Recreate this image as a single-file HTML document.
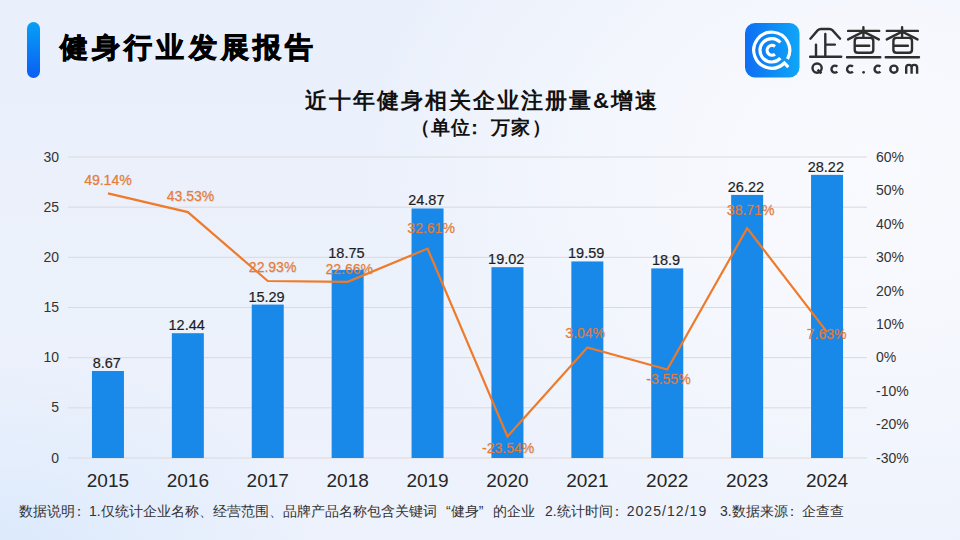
<!DOCTYPE html>
<html><head><meta charset="utf-8">
<style>
html,body{margin:0;padding:0;}
body{width:960px;height:540px;overflow:hidden;position:relative;font-family:"Liberation Sans",sans-serif;
background:radial-gradient(ellipse 520px 400px at 880px 170px,rgba(249,250,254,1) 0%,rgba(249,250,254,0.75) 40%,rgba(249,250,254,0) 100%),radial-gradient(ellipse 320px 210px at 0px 560px,rgba(218,233,252,1) 0%,rgba(218,233,252,0.5) 45%,rgba(218,233,252,0) 100%),linear-gradient(180deg,#EAF0FB 0%,#EDF2FC 100%);}
.abs{position:absolute;white-space:nowrap;}
.bar{position:absolute;left:27px;top:22px;width:13px;height:56px;border-radius:7px;background:linear-gradient(180deg,#07A0F6,#0A5EF3);}
.title{left:60px;top:28px;font-size:27.5px;letter-spacing:4.15px;font-weight:bold;color:#000;-webkit-text-stroke:0.9px #000;line-height:40px;}
.sub1{left:305px;top:87px;font-size:22px;letter-spacing:2px;font-weight:bold;color:#111;line-height:28px;}
.sub2{left:410px;top:115px;font-size:18.5px;font-weight:bold;color:#111;line-height:26px;}
.sub2 i{font-style:normal;display:inline-block;width:20px;text-align:center;}
.q1,.q2{display:inline-block;width:14px;}.q1{text-align:right;}.q2{text-align:left;}
.co{display:inline-block;width:14px;text-indent:-3px;text-align:left;}
.foot{left:19px;top:501px;font-size:14px;color:#333;line-height:20px;}
svg{position:absolute;left:0;top:0;}
svg text{font-family:"Liberation Sans",sans-serif;}
.ax{font-size:14px;fill:#333;}
.vl{font-size:14.5px;fill:#1e1e1e;stroke:#1e1e1e;stroke-width:0.2px;}
.yr{font-size:19px;fill:#262626;}
.pl{font-size:14px;fill:#E67C36;stroke:#E67C36;stroke-opacity:0.5;stroke-width:0.35px;}
.ps{font-size:14px;fill:rgba(80,80,100,0.16);}
</style></head>
<body>
<div class="bar"></div>
<div class="abs title">健身行业发展报告</div>
<div class="abs sub1">近十年健身相关企业注册量&amp;增速</div>
<div class="abs sub2"><i style="text-align:right">（</i><i>单</i><i>位</i><i style="text-align:left;text-indent:-5px">：</i><i>万</i><i>家</i><i style="text-align:left;text-indent:2px">）</i></div>

<svg width="960" height="540" viewBox="0 0 960 540">
  <defs>
    <linearGradient id="lg" x1="0" y1="0" x2="1" y2="0">
      <stop offset="0" stop-color="#0E6EF3"/>
      <stop offset="1" stop-color="#0FA6F7"/>
    </linearGradient>
  </defs>
  <rect x="745" y="23" width="54.5" height="54.5" rx="10" fill="url(#lg)"/>
  <g fill="none" stroke="#fff" stroke-width="3.2" stroke-linecap="butt">
    <path d="M787.5 58.9 A18 18 0 1 0 784.4 63 L788.3 67.2"/>
    <path d="M780.4 42.5 A11.7 11.7 0 1 0 780.4 58.1"/>
    <path d="M775 46.4 A4.9 4.9 0 1 0 775 54.2"/>
  </g>
  <g fill="none" stroke="#2e2e2e" stroke-width="2.4" stroke-linecap="round" stroke-linejoin="round">
    <path d="M810.4 38.7 L817.6 30.4 Q819 29 821 29 L829.4 29 Q831.2 29 832.6 30.4 L840.1 38.7"/>
    <path d="M825.3 33.9 V56.8 M825.3 44.6 H834.9 M816 44.6 V56.8 M810.1 56.8 H841.2"/>
    <g id="cha">
    <path d="M863.4 27.2 V37.9 M848.1 30.9 H879.2 M863.4 31.6 L848.1 39.4 M863.4 31.6 L878.8 39.4 M847 57.2 H880.3"/>
    <path d="M857.7 37.9 H870.3 Q873.3 37.9 873.3 40.9 V49.7 Q873.3 52.7 870.3 52.7 H857.7 Q854.7 52.7 854.7 49.7 V40.9 Q854.7 37.9 857.7 37.9 Z M854.7 45.7 H869.2"/>
    </g>
    <use href="#cha" x="38.7"/>
  </g>
  <g fill="none" stroke="#2e2e2e" stroke-width="2.4">
    <circle cx="817.1" cy="68.1" r="4.6"/>
    <path d="M817.6 69.6 L821.4 73.4" stroke-linecap="butt"/>
    <path d="M837.3 66.7 A3.45 3.45 0 1 0 837.3 71.7"/>
    <path d="M852.9 66.7 A3.45 3.45 0 1 0 852.9 71.7"/>
    <path d="M880.4 66.7 A3.45 3.45 0 1 0 880.4 71.7"/>
    <circle cx="893.9" cy="69.2" r="3.6"/>
    <path d="M906.2 73.75 V67.5 Q906.2 64.9 908.9 64.9 Q911.6 64.9 911.6 67.5 V73.75 M911.6 67.5 Q911.6 64.9 914.3 64.9 Q917.1 64.9 917.1 67.5 V73.75"/>
  </g>
  <circle cx="863.6" cy="72.3" r="1.35" fill="#2e2e2e"/>
<line x1="68" x2="867" y1="157" y2="157" stroke="#DADADA" stroke-width="1"/>
<text x="59" y="161.5" class="ax" text-anchor="end">30</text>
<line x1="68" x2="867" y1="207.17" y2="207.17" stroke="#DADADA" stroke-width="1"/>
<text x="59" y="211.67" class="ax" text-anchor="end">25</text>
<line x1="68" x2="867" y1="257.33" y2="257.33" stroke="#DADADA" stroke-width="1"/>
<text x="59" y="261.83" class="ax" text-anchor="end">20</text>
<line x1="68" x2="867" y1="307.5" y2="307.5" stroke="#DADADA" stroke-width="1"/>
<text x="59" y="312" class="ax" text-anchor="end">15</text>
<line x1="68" x2="867" y1="357.67" y2="357.67" stroke="#DADADA" stroke-width="1"/>
<text x="59" y="362.17" class="ax" text-anchor="end">10</text>
<line x1="68" x2="867" y1="407.83" y2="407.83" stroke="#DADADA" stroke-width="1"/>
<text x="59" y="412.33" class="ax" text-anchor="end">5</text>
<line x1="68" x2="867" y1="458" y2="458" stroke="#DADADA" stroke-width="1"/>
<text x="59" y="462.5" class="ax" text-anchor="end">0</text>
<text x="876" y="161.8" class="ax">60%</text>
<text x="876" y="195.24" class="ax">50%</text>
<text x="876" y="228.69" class="ax">40%</text>
<text x="876" y="262.13" class="ax">30%</text>
<text x="876" y="295.58" class="ax">20%</text>
<text x="876" y="329.02" class="ax">10%</text>
<text x="876" y="362.47" class="ax">0%</text>
<text x="876" y="395.91" class="ax">-10%</text>
<text x="876" y="429.36" class="ax">-20%</text>
<text x="876" y="462.8" class="ax">-30%</text>
<rect x="91.95" y="371.01" width="32" height="86.99" fill="#1889E9"/>
<text x="106.75" y="368.01" class="vl" text-anchor="middle">8.67</text>
<text x="107.95" y="487.3" class="yr" text-anchor="middle">2015</text>
<rect x="171.85" y="333.19" width="32" height="124.81" fill="#1889E9"/>
<text x="186.65" y="330.19" class="vl" text-anchor="middle">12.44</text>
<text x="187.85" y="487.3" class="yr" text-anchor="middle">2016</text>
<rect x="251.75" y="304.59" width="32" height="153.41" fill="#1889E9"/>
<text x="266.55" y="301.59" class="vl" text-anchor="middle">15.29</text>
<text x="267.75" y="487.3" class="yr" text-anchor="middle">2017</text>
<rect x="331.65" y="269.88" width="32" height="188.12" fill="#1889E9"/>
<text x="346.45" y="257.8" class="vl" text-anchor="middle">18.75</text>
<text x="347.65" y="487.3" class="yr" text-anchor="middle">2018</text>
<rect x="411.55" y="208.47" width="32" height="249.53" fill="#1889E9"/>
<text x="426.35" y="205.47" class="vl" text-anchor="middle">24.87</text>
<text x="427.55" y="487.3" class="yr" text-anchor="middle">2019</text>
<rect x="491.45" y="267.17" width="32" height="190.83" fill="#1889E9"/>
<text x="506.25" y="264.17" class="vl" text-anchor="middle">19.02</text>
<text x="507.45" y="487.3" class="yr" text-anchor="middle">2020</text>
<rect x="571.35" y="261.45" width="32" height="196.55" fill="#1889E9"/>
<text x="586.15" y="258.45" class="vl" text-anchor="middle">19.59</text>
<text x="587.35" y="487.3" class="yr" text-anchor="middle">2021</text>
<rect x="651.25" y="268.37" width="32" height="189.63" fill="#1889E9"/>
<text x="666.05" y="265.37" class="vl" text-anchor="middle">18.9</text>
<text x="667.25" y="487.3" class="yr" text-anchor="middle">2022</text>
<rect x="731.15" y="194.93" width="32" height="263.07" fill="#1889E9"/>
<text x="745.95" y="191.93" class="vl" text-anchor="middle">26.22</text>
<text x="747.15" y="487.3" class="yr" text-anchor="middle">2023</text>
<rect x="811.05" y="174.86" width="32" height="283.14" fill="#1889E9"/>
<text x="825.85" y="171.86" class="vl" text-anchor="middle">28.22</text>
<text x="827.05" y="487.3" class="yr" text-anchor="middle">2024</text>
<text x="108.6" y="185.2" class="ps" text-anchor="middle">49.14%</text>
<text x="107.9" y="184.5" class="pl" text-anchor="middle">49.14%</text>
<text x="191.2" y="201.8" class="ps" text-anchor="middle">43.53%</text>
<text x="190.5" y="201.1" class="pl" text-anchor="middle">43.53%</text>
<text x="273.3" y="272.6" class="ps" text-anchor="middle">22.93%</text>
<text x="272.6" y="271.9" class="pl" text-anchor="middle">22.93%</text>
<text x="349.9" y="274.7" class="ps" text-anchor="middle">22.66%</text>
<text x="349.2" y="274" class="pl" text-anchor="middle">22.66%</text>
<text x="431.8" y="233.3" class="ps" text-anchor="middle">32.61%</text>
<text x="431.1" y="232.6" class="pl" text-anchor="middle">32.61%</text>
<text x="508.9" y="453.9" class="ps" text-anchor="middle">-23.54%</text>
<text x="508.2" y="453.2" class="pl" text-anchor="middle">-23.54%</text>
<text x="585.9" y="338.2" class="ps" text-anchor="middle">3.04%</text>
<text x="585.2" y="337.5" class="pl" text-anchor="middle">3.04%</text>
<text x="669.1" y="384.9" class="ps" text-anchor="middle">-3.55%</text>
<text x="668.4" y="384.2" class="pl" text-anchor="middle">-3.55%</text>
<text x="751.3" y="215.9" class="ps" text-anchor="middle">38.71%</text>
<text x="750.6" y="215.2" class="pl" text-anchor="middle">38.71%</text>
<text x="827.3" y="339.3" class="ps" text-anchor="middle">7.63%</text>
<text x="826.6" y="338.6" class="pl" text-anchor="middle">7.63%</text>
<polyline points="107.95,193.32 187.85,212.08 267.75,280.98 347.65,281.88 427.55,248.6 507.45,436.39 587.35,347.5 667.25,369.54 747.15,228.2 827.05,332.15" fill="none" stroke="#EF7A2A" stroke-width="2.2" stroke-linejoin="miter"/>
</svg>

<div class="abs foot" style="left:19px">数据说明<span class="co">：</span>1.仅统计企业名称、经营范围、品牌产品名称包含关键词<span class="q1">“</span>健身<span class="q2">”</span>的企业</div>
<div class="abs foot" style="left:545px">2.统计时间<span class="co">：</span><span style="letter-spacing:1.05px">2025/12/1</span>9</div>
<div class="abs foot" style="left:720px">3.数据来源<span class="co">：</span>企查查</div>
</body></html>
